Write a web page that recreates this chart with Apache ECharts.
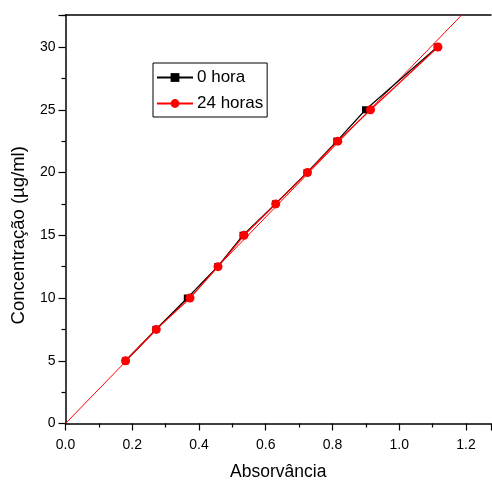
<!DOCTYPE html>
<html>
<head>
<meta charset="utf-8">
<script src="https://cdn.jsdelivr.net/npm/echarts@6/dist/echarts.min.js"></script>
<style>html,body{margin:0;padding:0;background:#fff}#c{width:492px;height:482px}</style>
</head>
<body>
<div id="c"></div>
<script>
// Data
var conc = [5, 7.5, 10, 12.5, 15, 17.5, 20, 22.5, 25, 30];
var abs0h = [0.180, 0.271, 0.365, 0.456, 0.532, 0.629, 0.724, 0.813, 0.899, 1.114];
var abs24h = [0.180, 0.272, 0.373, 0.457, 0.535, 0.630, 0.725, 0.816, 0.914, 1.116];
var fitX = [0, 1.2];
var fitY = [0, 32.9];
var xTicks = [0, 0.2, 0.4, 0.6, 0.8, 1.0, 1.2];
var yTicks = [0, 5, 10, 15, 20, 25, 30];

function pairs(xs, ys) { return xs.map(function (x, i) { return [x, ys[i]]; }); }

var FONT = '"Liberation Sans", Arial, sans-serif';
var chart = echarts.init(document.getElementById('c'));
chart.setOption({
  animation: false,
  backgroundColor: '#fff',
  grid: { left: 65.5, right: 1, top: 15, bottom: 58.5, containLabel: false, outerBoundsMode: 'none' },
  legend: {
    left: 153, top: 63,
    orient: 'vertical',
    data: ['0 hora', '24 horas'],
    backgroundColor: '#fff',
    borderColor: '#000', borderWidth: 1,
    padding: [6, 4, 5, 3],
    itemWidth: 36, itemHeight: 11, itemGap: 9,
    textStyle: { fontFamily: FONT, fontSize: 17, color: '#000', padding: [0, 0, 0, -1] }
  },
  xAxis: [{
    type: 'value', min: 0, max: 1.275, interval: 0.2,
    name: 'Absorvância', nameLocation: 'middle', nameGap: 40,
    nameTextStyle: { fontFamily: FONT, fontSize: 17.5, color: '#000' },
    axisLine: { show: true, onZero: false, lineStyle: { color: '#000', width: 1.5 } },
    axisTick: { show: true, inside: false, length: 7, lineStyle: { color: '#000', width: 1.2 } },
    minorTick: { show: true, splitNumber: 2, length: 4, lineStyle: { color: '#000', width: 1.2 } },
    axisLabel: { fontFamily: FONT, fontSize: 14, color: '#000', margin: 15, showMaxLabel: false,
      formatter: function (v) { return v.toFixed(1); } },
    splitLine: { show: false }
  }, {
    type: 'value', position: 'top', min: 0, max: 1.275,
    axisLine: { show: true, onZero: false, lineStyle: { color: '#000', width: 1.5 } },
    axisTick: { show: false }, axisLabel: { show: false }, splitLine: { show: false }
  }],
  yAxis: {
    type: 'value', min: 0, max: 32.55, interval: 5,
    name: 'Concentração (µg/ml)', nameLocation: 'middle', nameGap: 37,
    nameTextStyle: { fontFamily: FONT, fontSize: 18.5, color: '#000', padding: [0, 0, 0, -32] },
    axisLine: { show: true, onZero: false, lineStyle: { color: '#000', width: 1.5 } },
    axisTick: { show: true, inside: false, length: 7, lineStyle: { color: '#000', width: 1.2 } },
    minorTick: { show: true, splitNumber: 2, length: 4, lineStyle: { color: '#000', width: 1.2 } },
    axisLabel: { fontFamily: FONT, fontSize: 14, color: '#000', margin: 10, showMaxLabel: false },
    splitLine: { show: false }
  },
  series: [{
    name: 'fit', type: 'line', data: pairs(fitX, fitY), symbol: 'none',
    lineStyle: { color: '#ff0000', width: 1 }, clip: true, silent: true, z: 1
  }, {
    name: '0 hora', type: 'line', data: pairs(abs0h, conc),
    symbol: 'rect', symbolSize: 7,
    itemStyle: { color: '#000' }, lineStyle: { color: '#000', width: 1.2 }, z: 2
  }, {
    name: '24 horas', type: 'line', data: pairs(abs24h, conc),
    symbol: 'circle', symbolSize: 9,
    itemStyle: { color: '#ff0000' }, lineStyle: { color: '#ff0000', width: 1.2 }, z: 3
  }]
});
</script>
</body>
</html>
